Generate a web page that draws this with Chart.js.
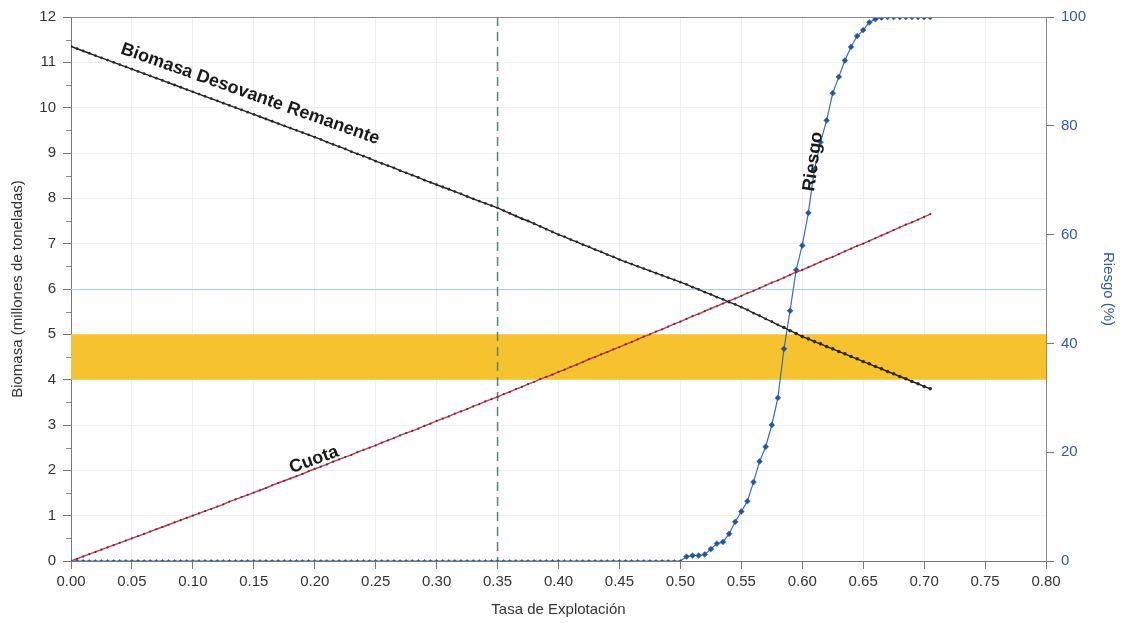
<!DOCTYPE html>
<html>
<head>
<meta charset="utf-8">
<script src="https://cdn.jsdelivr.net/npm/chart.js@4.4.1/dist/chart.umd.min.js"></script>
<style>
  html, body { margin: 0; padding: 0; background: #fff; }
  #wrap { width: 1122px; height: 623px; }
</style>
</head>
<body>
<div id="wrap"><canvas id="grafico"></canvas></div>
<script>
// tasa de explotacion (eje x)
var tasa = [
  0.000,0.005,0.010,0.015,0.020,0.025,0.030,0.035,0.040,0.045,
  0.050,0.055,0.060,0.065,0.070,0.075,0.080,0.085,0.090,0.095,
  0.100,0.105,0.110,0.115,0.120,0.125,0.130,0.135,0.140,0.145,
  0.150,0.155,0.160,0.165,0.170,0.175,0.180,0.185,0.190,0.195,
  0.200,0.205,0.210,0.215,0.220,0.225,0.230,0.235,0.240,0.245,
  0.250,0.255,0.260,0.265,0.270,0.275,0.280,0.285,0.290,0.295,
  0.300,0.305,0.310,0.315,0.320,0.325,0.330,0.335,0.340,0.345,
  0.350,0.355,0.360,0.365,0.370,0.375,0.380,0.385,0.390,0.395,
  0.400,0.405,0.410,0.415,0.420,0.425,0.430,0.435,0.440,0.445,
  0.450,0.455,0.460,0.465,0.470,0.475,0.480,0.485,0.490,0.495,
  0.500,0.505,0.510,0.515,0.520,0.525,0.530,0.535,0.540,0.545,
  0.550,0.555,0.560,0.565,0.570,0.575,0.580,0.585,0.590,0.595,
  0.600,0.605,0.610,0.615,0.620,0.625,0.630,0.635,0.640,0.645,
  0.650,0.655,0.660,0.665,0.670,0.675,0.680,0.685,0.690,0.695,
  0.700,0.705
];
// biomasa desovante remanente (millones de t)
var biomasa = [
  11.35,11.30,11.25,11.20,11.15,11.10,11.05,11.00,10.95,10.90,
  10.85,10.80,10.75,10.70,10.65,10.60,10.55,10.50,10.45,10.40,
  10.35,10.30,10.25,10.20,10.15,10.10,10.05,10.00,9.95,9.90,
  9.85,9.80,9.75,9.70,9.65,9.60,9.55,9.50,9.45,9.40,
  9.35,9.30,9.24,9.19,9.14,9.09,9.03,8.98,8.93,8.88,
  8.82,8.77,8.72,8.67,8.61,8.56,8.51,8.46,8.40,8.35,
  8.30,8.25,8.20,8.15,8.10,8.04,7.99,7.94,7.89,7.84,
  7.79,7.73,7.67,7.61,7.55,7.50,7.44,7.38,7.32,7.26,
  7.20,7.15,7.09,7.04,6.98,6.93,6.87,6.82,6.76,6.71,
  6.65,6.60,6.55,6.50,6.45,6.40,6.35,6.30,6.25,6.20,
  6.15,6.10,6.04,5.99,5.93,5.88,5.82,5.77,5.71,5.66,
  5.60,5.54,5.47,5.41,5.34,5.28,5.21,5.15,5.08,5.02,
  4.95,4.90,4.84,4.79,4.73,4.68,4.62,4.57,4.51,4.46,
  4.40,4.35,4.29,4.24,4.18,4.13,4.07,4.02,3.96,3.91,
  3.85,3.80
];
// cuota (millones de t)
var cuota = [
  0.00,0.05,0.10,0.15,0.20,0.25,0.30,0.35,0.40,0.45,
  0.50,0.55,0.60,0.65,0.70,0.75,0.80,0.85,0.90,0.95,
  1.00,1.05,1.10,1.15,1.20,1.25,1.31,1.36,1.41,1.46,
  1.51,1.56,1.61,1.67,1.72,1.77,1.82,1.87,1.92,1.98,
  2.03,2.08,2.13,2.19,2.24,2.29,2.34,2.40,2.45,2.50,
  2.55,2.61,2.66,2.71,2.77,2.82,2.87,2.92,2.98,3.03,
  3.09,3.14,3.19,3.25,3.30,3.35,3.41,3.46,3.52,3.57,
  3.62,3.68,3.73,3.79,3.84,3.90,3.95,4.01,4.06,4.11,
  4.17,4.22,4.28,4.33,4.39,4.45,4.50,4.56,4.61,4.67,
  4.72,4.78,4.83,4.89,4.95,5.00,5.06,5.11,5.17,5.23,
  5.28,5.34,5.40,5.45,5.51,5.57,5.62,5.68,5.74,5.79,
  5.85,5.91,5.96,6.02,6.08,6.14,6.19,6.25,6.31,6.37,
  6.42,6.48,6.54,6.60,6.66,6.71,6.77,6.83,6.89,6.95,
  7.00,7.06,7.12,7.18,7.24,7.30,7.36,7.42,7.47,7.53,
  7.59,7.65
];
// riesgo (%)
var riesgo = [
  0,0,0,0,0,0,0,0,0,0,
  0,0,0,0,0,0,0,0,0,0,
  0,0,0,0,0,0,0,0,0,0,
  0,0,0,0,0,0,0,0,0,0,
  0,0,0,0,0,0,0,0,0,0,
  0,0,0,0,0,0,0,0,0,0,
  0,0,0,0,0,0,0,0,0,0,
  0,0,0,0,0,0,0,0,0,0,
  0,0,0,0,0,0,0,0,0,0,
  0,0,0,0,0,0,0,0,0,0,
  0,0.8,1.0,1.0,1.2,2.2,3.2,3.5,5.0,7.2,
  9.1,11.0,14.5,18.3,21.0,25.0,30.0,39.0,46.0,53.5,
  58.0,64.0,72.0,77.0,81.0,86.0,89.0,92.0,94.5,96.5,
  97.6,99.0,99.6,99.9,100,100,100,100,100,100,
  100,100
];
var bandaObjetivo = [4, 5];   // franja amarilla
var lineaRef = 6;             // linea celeste
var tasaRef = 0.35;           // linea vertical punteada

var fuente = '"Liberation Sans", Arial, sans-serif';
var azul = '#2a5ba8';

// etiquetas sobre las curvas: [texto, x, y (eje izq), angulo]
var rotulos = [
  ['Biomasa Desovante Remanente', 0.147, 10.3, 19.5],
  ['Cuota', 0.1994, 2.23, -20],
  ['Riesgo', 0.609, 8.81, -82]
];

var decor = {
  id: 'decor',
  beforeDatasetsDraw: function(chart){
    var ctx = chart.ctx, a = chart.chartArea, x = chart.scales.x, y = chart.scales.y;
    ctx.save();
    var y1 = y.getPixelForValue(bandaObjetivo[1]);
    var y0 = y.getPixelForValue(bandaObjetivo[0]);
    ctx.fillStyle = '#f6c22e';
    ctx.fillRect(a.left, y1, a.right - a.left, y0 - y1);
    // linea de referencia celeste
    var yr = Math.round(y.getPixelForValue(lineaRef)) + 0.5;
    ctx.strokeStyle = '#a6cbe8';
    ctx.lineWidth = 1;
    ctx.beginPath();
    ctx.moveTo(a.left, yr);
    ctx.lineTo(a.right, yr);
    ctx.stroke();
    var xv = x.getPixelForValue(tasaRef);
    ctx.strokeStyle = '#4d8a6c';
    ctx.lineWidth = 1.5;
    ctx.setLineDash([9, 6]);
    ctx.beginPath();
    ctx.moveTo(xv, a.top);
    ctx.lineTo(xv, a.bottom);
    ctx.stroke();
    ctx.restore();
  },
  afterDatasetsDraw: function(chart){
    var ctx = chart.ctx, x = chart.scales.x, y = chart.scales.y;
    ctx.save();
    ctx.fillStyle = '#1a1a1a';
    ctx.font = 'bold 18px ' + fuente;
    ctx.textAlign = 'center';
    ctx.textBaseline = 'middle';
    rotulos.forEach(function(r){
      var px = x.getPixelForValue(r[1]), py = y.getPixelForValue(r[2]);
      ctx.save();
      ctx.translate(px, py);
      ctx.rotate(r[3] * Math.PI / 180);
      ctx.fillText(r[0], 0, 0);
      ctx.restore();
    });
    ctx.restore();
  },
  afterDraw: function(chart){
    var ctx = chart.ctx, a = chart.chartArea, y = chart.scales.y;
    ctx.save();
    ctx.strokeStyle = '#888';
    ctx.lineWidth = 1;
    ctx.beginPath();
    ctx.moveTo(a.left, a.top + 0.5);
    ctx.lineTo(a.right, a.top + 0.5);
    // marcas menores del eje izquierdo
    for (var v = 0.5; v < 12; v += 1) {
      var py = Math.round(y.getPixelForValue(v)) + 0.5;
      ctx.moveTo(a.left - 5, py);
      ctx.lineTo(a.left, py);
    }
    ctx.stroke();
    ctx.restore();
  }
};

var puntos = function(arr){
  return arr.map(function(v, i){ return {x: tasa[i], y: v}; });
};

new Chart(document.getElementById('grafico'), {
  type: 'line',
  data: {
    datasets: [{
      label: 'Biomasa Desovante Remanente',
      data: puntos(biomasa),
      yAxisID: 'y',
      borderColor: '#222',
      borderWidth: 1.4,
      pointRadius: function(c){ return c.raw && c.raw.x > 0.58 ? 1.8 : 1.4; },
      pointBackgroundColor: '#2a2a2a',
      pointBorderWidth: 0
    }, {
      label: 'Cuota',
      data: puntos(cuota),
      yAxisID: 'y',
      borderColor: '#c8364e',
      borderWidth: 1.4,
      pointRadius: 1.1,
      pointBackgroundColor: '#6a2a38',
      pointBorderWidth: 0
    }, {
      label: 'Riesgo',
      data: puntos(riesgo),
      yAxisID: 'y2',
      borderColor: '#3a6cb8',
      borderWidth: 1.2,
      pointStyle: 'rectRot',
      pointRadius: function(c){ return c.raw && c.raw.y > 0 ? 2.9 : 1.6; },
      pointBackgroundColor: '#1f56a6',
      pointBorderColor: '#1f56a6',
      pointBorderWidth: 0.5
    }]
  },
  options: {
    responsive: true,
    maintainAspectRatio: false,
    animation: false,
    layout: { padding: { top: 17, left: 0, right: 0, bottom: 0 } },
    plugins: { legend: { display: false }, tooltip: { enabled: false } },
    scales: {
      x: {
        type: 'linear',
        min: 0, max: 0.8,
        afterFit: function(s){ s.height = 62; },
        ticks: {
          stepSize: 0.05, color: '#333', padding: 4, maxRotation: 0,
          font: { family: fuente, size: 15 },
          callback: function(v){ return v.toFixed(2); }
        },
        grid: { color: '#efefef', tickColor: '#777', tickLength: 8 },
        border: { color: '#777' },
        title: {
          display: true, text: 'Tasa de Explotación', color: '#333',
          font: { family: fuente, size: 15 }, padding: { top: 0, bottom: 4 }
        }
      },
      y: {
        position: 'left',
        min: 0, max: 12,
        afterFit: function(s){ s.width = 71; },
        ticks: {
          stepSize: 1, color: '#333', padding: 7,
          font: { family: fuente, size: 15 }
        },
        grid: { color: '#f0f0f0', tickColor: '#777', tickLength: 8 },
        border: { color: '#777' },
        title: {
          display: true, text: 'Biomasa (millones de toneladas)', color: '#333',
          font: { family: fuente, size: 15 }, padding: { top: 9, bottom: 0 }
        }
      },
      y2: {
        position: 'right',
        min: 0, max: 100,
        afterFit: function(s){ s.width = 76; },
        ticks: {
          stepSize: 20, color: azul, padding: 7,
          font: { family: fuente, size: 15 }
        },
        grid: { drawOnChartArea: false, tickColor: '#777', tickLength: 8 },
        border: { color: '#888' },
        title: {
          display: true, text: 'Riesgo (%)', color: azul,
          font: { family: fuente, size: 15 }, padding: { top: 5, bottom: 0 }
        }
      }
    }
  },
  plugins: [decor]
});
</script>
</body>
</html>
